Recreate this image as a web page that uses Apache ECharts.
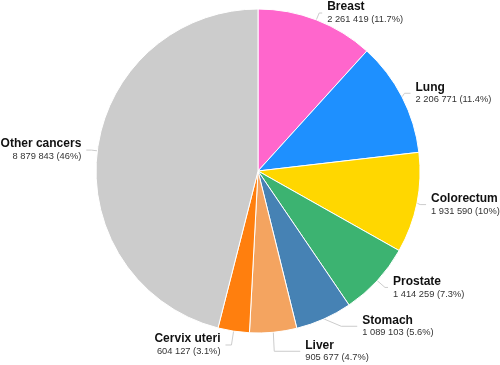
<!DOCTYPE html>
<html><head><meta charset="utf-8">
<script src="https://cdn.jsdelivr.net/npm/echarts@6/dist/echarts.min.js"></script>
<style>html,body{margin:0;padding:0;background:#fff}#c{width:500px;height:365px}</style>
</head><body><div id="c"></div>
<script>
const categories = ["Breast","Lung","Colorectum","Prostate","Stomach","Liver","Cervix uteri","Other cancers"];
const values = [2261419,2206771,1931590,1414259,1089103,905677,604127,8879843];
const pctLabels = ["11.7%","11.4%","10%","7.3%","5.6%","4.7%","3.1%","46%"];
const colors = ["#ff66cc","#1e90ff","#ffd700","#3cb371","#4682b4","#f4a460","#ff7f0e","#cccccc"];

function fmt(n){return String(n).replace(/\B(?=(\d{3})+(?!\d))/g,' ');}

const lineOverrides = {
  "Breast":{length:8,length2:3},
  "Prostate":{length:10,length2:3},
  "Stomach":{length:8,length2:16},
  "Liver":{length:10,length2:26},
  "Cervix uteri":{length:14,length2:6},
  "Other cancers":{length:6,length2:5}
};

const chart = echarts.init(document.getElementById('c'));
chart.setOption({
  animation:false,
  series:[{
    type:'pie',
    center:[258,171],
    radius:[0,162],
    startAngle:90,
    clockwise:true,
    avoidLabelOverlap:true,
    data:categories.map((c,i)=>({name:c,value:values[i],itemStyle:{color:colors[i]},
      labelLine: lineOverrides[c]})),
    itemStyle:{borderColor:'#fff',borderWidth:1},
    label:{
      show:true,
      position:'outside',
      overflow:'none',
      fontFamily:'Liberation Sans',
      formatter:(p)=>'{n|'+p.name+'}\n{v|'+fmt(values[p.dataIndex])+' ('+pctLabels[p.dataIndex]+')}',
      rich:{
        n:{fontFamily:'Liberation Sans',fontWeight:'bold',fontSize:12,color:'#111',lineHeight:13},
        v:{fontFamily:'Liberation Sans',fontSize:9.3,color:'#333',lineHeight:12}
      }
    },
    labelLine:{show:true,length:8,length2:6,lineStyle:{color:'#ccc',width:1}}
  }]
});
</script></body></html>
